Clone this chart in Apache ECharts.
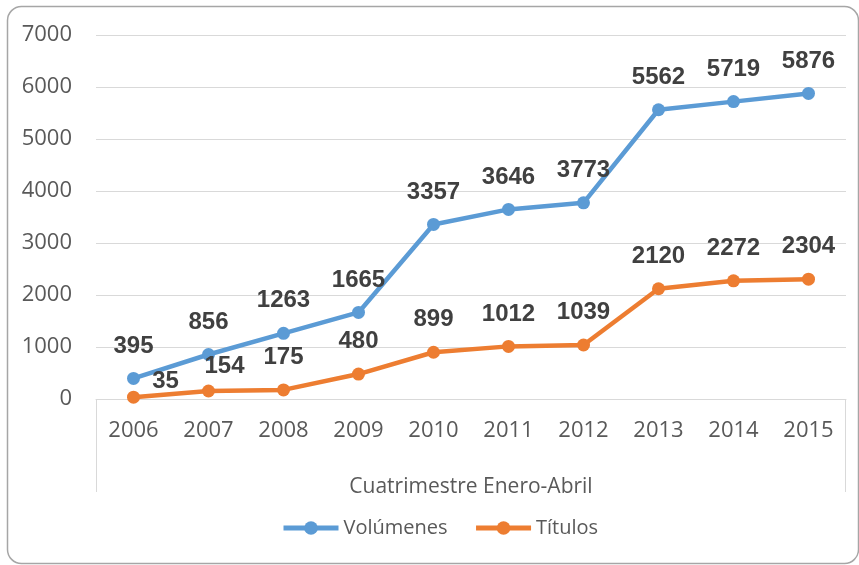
<!DOCTYPE html>
<html>
<head>
<meta charset="utf-8">
<script src="https://cdn.jsdelivr.net/npm/echarts@6/dist/echarts.min.js"></script>
<style>
  html, body { margin: 0; padding: 0; background: #fff; }
  #main { width: 859px; height: 565px; }
</style>
</head>
<body>
<div id="main"></div>
<script>
// datos
const years = ['2006', '2007', '2008', '2009', '2010', '2011', '2012', '2013', '2014', '2015'];
const volumenes = [395, 856, 1263, 1665, 3357, 3646, 3773, 5562, 5719, 5876];
const titulos = [35, 154, 175, 480, 899, 1012, 1039, 2120, 2272, 2304];
const axisName = 'Cuatrimestre Enero-Abril';

const chart = echarts.init(document.getElementById('main'));

const textFont = '"Open Sans", sans-serif';

const labelStyle = {
  show: true,
  position: 'top',
  distance: 14,
  fontFamily: '"Liberation Sans", Arial, sans-serif',
  fontWeight: 'bold',
  fontSize: 24,
  color: '#404040'
};

// etiquetas desplazadas a mano, como en el original
const tituloData = titulos.map((v, i) => {
  if (i === 0) return { value: v, label: { offset: [32, 17] } };
  if (i === 1) return { value: v, label: { offset: [16, 8] } };
  return v;
});

chart.setOption({
  backgroundColor: '#fff',
  animation: false,
  grid: { left: 96, right: 13, top: 35, bottom: 166 },
  xAxis: {
    type: 'category',
    data: years,
    boundaryGap: true,
    axisLine: { lineStyle: { color: '#d9d9d9', width: 1 } },
    axisTick: { show: false },
    axisLabel: { color: '#595959', fontSize: 22, fontFamily: textFont, margin: 21 },
    name: axisName,
    nameLocation: 'middle',
    nameGap: 78,
    nameTextStyle: { color: '#595959', fontSize: 21, fontFamily: textFont }
  },
  yAxis: {
    type: 'value',
    min: 0,
    max: 7000,
    interval: 1000,
    axisLine: { show: false },
    axisTick: { show: false },
    axisLabel: {
      color: '#595959',
      fontSize: 22,
      fontFamily: textFont,
      margin: 24,
      formatter: (v) => String(v)
    },
    splitLine: { lineStyle: { color: '#d9d9d9', width: 1 } }
  },
  legend: {
    bottom: 22,
    left: 276,
    itemWidth: 55,
    itemHeight: 17,
    itemGap: 26,
    lineStyle: { width: 5 },
    textStyle: { color: '#595959', fontSize: 20, fontFamily: textFont },
    data: ['Volúmenes', 'Títulos']
  },
  series: [
    {
      name: 'Volúmenes',
      type: 'line',
      data: volumenes,
      symbol: 'circle',
      symbolSize: 13,
      itemStyle: { color: '#5b9bd5' },
      lineStyle: { width: 4.5, color: '#5b9bd5' },
      label: labelStyle,
      z: 3
    },
    {
      name: 'Títulos',
      type: 'line',
      data: tituloData,
      symbol: 'circle',
      symbolSize: 13,
      itemStyle: { color: '#ed7d31' },
      lineStyle: { width: 4.5, color: '#ed7d31' },
      label: labelStyle,
      z: 3
    }
  ]
});

// marco redondeado y laterales del eje de dos niveles
function drawFrame() {
  const g = chart.getModel().getComponent('grid').coordinateSystem.getRect();
  const base = g.y + g.height;
  const boxBottom = base + 93;
  chart.setOption({
    graphic: [
      {
        type: 'rect',
        shape: { x: 7.5, y: 6.5, width: 851, height: 557, r: 14 },
        style: { fill: 'none', stroke: '#a6a6a6', lineWidth: 1.5 },
        silent: true
      },
      {
        type: 'line',
        shape: { x1: g.x + 0.5, y1: base, x2: g.x + 0.5, y2: boxBottom },
        style: { stroke: '#d9d9d9', lineWidth: 1 },
        silent: true
      },
      {
        type: 'line',
        shape: { x1: g.x + g.width - 0.5, y1: base, x2: g.x + g.width - 0.5, y2: boxBottom },
        style: { stroke: '#d9d9d9', lineWidth: 1 },
        silent: true
      }
    ]
  });
}
drawFrame();
</script>
</body>
</html>
